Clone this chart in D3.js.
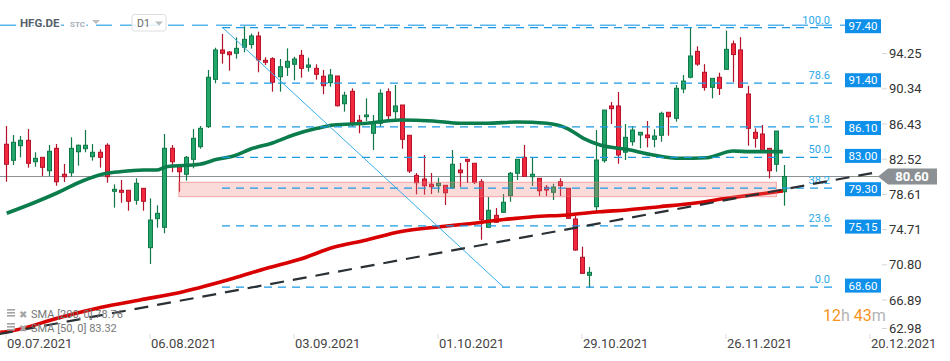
<!DOCTYPE html>
<html>
<head>
<meta charset="utf-8">
<script src="https://cdn.jsdelivr.net/npm/d3@7"></script>
<style>
  body { margin: 0; background: #fff; font-family: Roboto, "Noto Sans", sans-serif; }
  svg { display: block; }
</style>
</head>
<body>
<div id="root"></div>
<script>
// daily candles HFG.DE, 09.07.2021 .. 07.12.2021
const opens = [
  84.18, 82.40, 84.02, 84.62, 82.24, 82.73, 81.24, 83.73, 80.85, 81.02,
  83.35, 83.69, 82.80, 83.29, 84.07, 78.96, 79.07, 79.07, 77.96, 79.29,
  72.70, 75.92, 74.96, 83.73, 81.80, 80.85, 82.51, 83.91, 86.13, 91.39,
  94.65, 94.42, 94.28, 94.95, 95.25, 96.20, 93.50, 93.68, 91.68, 92.73,
  93.06, 94.06, 92.73, 92.61, 91.73, 91.02, 91.76, 88.68, 90.06, 86.84,
  87.24, 85.40, 86.51, 90.02, 87.80, 88.54, 85.18, 80.73, 80.32, 79.74,
  79.58, 79.62, 79.32, 81.32, 82.51, 82.07, 80.02, 74.96, 76.29, 76.63,
  78.47, 80.96, 82.73, 80.58, 80.40, 79.40, 78.85, 80.02, 79.29, 75.88,
  71.63, 69.63, 77.25, 82.36, 88.43, 88.43, 83.30, 84.46, 85.21, 85.21,
  84.73, 85.18, 87.73, 87.06, 90.32, 91.62, 94.49, 92.17, 90.50, 91.62,
  92.50, 95.33, 94.65, 89.76, 85.51, 85.32, 83.73, 81.96, 78.91
];
const highs = [
  86.21, 85.21, 85.10, 85.87, 83.29, 82.73, 84.10, 84.21, 81.99, 84.95,
  84.15, 85.76, 84.21, 83.62, 84.29, 79.73, 80.21, 79.07, 80.40, 79.29,
  78.18, 77.40, 85.32, 84.10, 81.80, 82.88, 85.87, 86.21, 92.43, 94.90,
  96.42, 94.54, 96.05, 97.28, 96.47, 96.68, 93.84, 93.84, 93.65, 94.83,
  93.90, 94.65, 93.79, 93.06, 92.43, 92.54, 91.76, 90.02, 90.39, 87.43,
  89.28, 87.43, 90.28, 90.39, 90.76, 88.54, 85.18, 80.99, 82.99, 80.99,
  80.47, 79.62, 83.54, 82.10, 82.54, 82.07, 80.32, 78.33, 77.10, 78.66,
  81.10, 82.51, 84.10, 82.69, 80.40, 79.66, 79.80, 80.40, 79.29, 76.22,
  72.81, 70.55, 85.76, 87.98, 88.87, 89.98, 86.43, 86.21, 85.54, 86.76,
  85.84, 87.80, 87.73, 90.76, 91.87, 97.08, 95.05, 93.08, 91.50, 92.13,
  96.80, 95.69, 96.07, 90.65, 85.95, 86.32, 83.73, 85.65, 81.88
];
const lows = [
  80.02, 81.88, 82.73, 81.58, 81.69, 80.66, 80.66, 79.58, 79.99, 80.58,
  81.80, 83.29, 82.36, 81.58, 79.91, 77.14, 77.69, 76.80, 77.47, 76.80,
  70.89, 74.92, 74.30, 81.07, 78.91, 80.14, 81.51, 83.69, 85.99, 90.95,
  93.13, 92.35, 93.68, 94.39, 94.80, 92.17, 92.98, 90.02, 90.02, 91.76,
  91.28, 91.57, 92.24, 91.35, 89.73, 90.57, 88.37, 87.80, 86.13, 85.40,
  86.76, 83.54, 86.13, 86.76, 86.99, 83.69, 80.99, 78.62, 78.58, 78.66,
  78.80, 77.44, 79.27, 79.43, 79.88, 79.77, 73.58, 74.94, 75.44, 76.55,
  77.80, 80.21, 80.60, 79.55, 78.44, 78.44, 77.99, 78.44, 75.88, 72.36,
  69.83, 68.22, 76.55, 82.13, 86.43, 82.02, 82.43, 84.02, 83.73, 83.84,
  83.84, 84.46, 85.13, 86.69, 89.84, 91.50, 92.89, 90.13, 89.28, 89.65,
  92.48, 91.08, 90.48, 84.02, 83.80, 83.45, 80.40, 81.13, 77.36
];
const closes = [
  81.96, 84.40, 84.62, 82.07, 82.62, 81.62, 83.40, 80.02, 80.58, 83.73,
  84.07, 84.07, 83.29, 82.73, 80.58, 79.18, 78.85, 77.85, 79.85, 77.85,
  75.77, 76.51, 83.73, 82.24, 81.13, 82.73, 84.84, 85.95, 91.62, 94.65,
  94.28, 94.12, 94.83, 95.83, 96.21, 93.54, 93.28, 91.06, 92.79, 93.39,
  93.65, 92.61, 92.98, 91.95, 90.68, 91.87, 88.46, 89.62, 86.57, 86.62,
  87.43, 86.51, 89.84, 87.35, 88.43, 84.73, 81.21, 79.91, 79.58, 79.47,
  79.85, 78.80, 81.96, 81.02, 82.29, 79.96, 75.80, 76.85, 75.52, 77.74,
  80.96, 82.51, 80.62, 80.85, 79.02, 79.10, 79.43, 79.58, 75.96, 72.44,
  69.85, 69.96, 82.43, 87.98, 88.13, 82.99, 84.95, 85.76, 85.51, 84.91,
  85.10, 87.62, 87.24, 90.39, 91.20, 93.98, 93.08, 90.50, 91.50, 90.39,
  94.72, 94.14, 90.50, 85.95, 84.84, 83.47, 81.24, 85.65, 80.60
];

// moving averages, [bar index, value]
const sma50 = [
  [0.1, 76.52], [3.8, 77.66], [7.0, 78.74], [10.7, 80.13], [13.5, 80.88],
  [15.8, 81.13], [19.1, 81.32], [20.9, 81.32], [22.3, 81.69], [26.9, 81.96],
  [29.3, 82.51], [31.6, 82.88], [33.9, 83.62], [37.1, 84.35], [39.9, 85.21],
  [43.2, 85.95], [45.5, 86.32], [50.1, 86.51], [54.7, 86.87], [59.3, 86.76],
  [63.1, 86.51], [66.8, 86.51], [70.9, 86.65], [75.1, 86.51], [77.9, 85.95],
  [80.2, 84.84], [82.5, 84.10], [86.2, 83.62], [89.9, 82.99], [93.6, 82.62],
  [97.3, 82.69], [101.0, 83.43], [103.3, 83.36], [107.9, 83.36]
];
const sma200 = [
  [-0.8, 63.30], [0.1, 63.37], [7.5, 64.95], [13.1, 66.05], [18.6, 66.89],
  [24.6, 67.81], [31.6, 69.30], [36.2, 70.41], [40.8, 71.41], [45.5, 72.74],
  [50.1, 73.55], [54.7, 74.47], [60.3, 75.03], [64.0, 75.33], [68.6, 75.77],
  [73.2, 76.14], [77.9, 76.33], [82.5, 76.69], [86.2, 76.88], [90.8, 77.25],
  [95.5, 77.63], [100.1, 78.18], [104.7, 78.66], [107.9, 78.99]
];

// drawings
const trendLine = [[-1, 63.1], [120.4, 81.0]];
const fibAnchor = [[30.1, 97.12], [69.1, 68.32]];
const fibRatios = ["100.0", "78.6", "61.8", "50.0", "38.2", "23.6", "0.0"];
const fibLevels = [97.12, 90.96, 86.12, 82.72, 79.32, 75.12, 68.32];
const fibPrices = ["97.40", "91.40", "86.10", "83.00", "79.30", "75.15", "68.60"];
const zoneBars = [24, 107];
const zonePrices = [79.96, 78.36];
const lastPrice = 80.60;

// axes
const priceTicks = ["94.25", "90.34", "86.43", "82.52", "78.61", "74.71", "70.80", "66.89", "62.98"];
const dateTicks = [0, 20, 40, 60, 80, 100, 120];
const dateLabels = ["09.07.2021", "06.08.2021", "03.09.2021", "01.10.2021", "29.10.2021", "26.11.2021", "20.12.2021"];
const legendRows = ["SMA [200, 0] 78.76", "SMA [50, 0] 83.32"];

const width = 950, height = 361;
const svg = d3.select("#root").append("svg").attr("width", width).attr("height", height);

const x = d3.scaleLinear().domain([0, 120]).range([6, 870]);
const y = d3.scaleLinear().domain([66.89, 86.43]).range([300, 124]);

const blue = "#1a9be3";

// current price line
svg.append("line")
  .attr("x1", 0).attr("x2", 880)
  .attr("y1", y(lastPrice)).attr("y2", y(lastPrice))
  .attr("stroke", "#8d9296").attr("stroke-width", 1);

// top light line at 97.40
svg.append("line")
  .attr("x1", 0).attr("x2", 845)
  .attr("y1", y(+fibPrices[0])).attr("y2", y(+fibPrices[0]))
  .attr("stroke", "#58b6ec").attr("stroke-width", 1.4)
  .attr("stroke-dasharray", "16,8");

// candles
const candles = svg.append("g");
d3.range(opens.length).forEach(i => {
  const up = closes[i] >= opens[i];
  const fill = up ? "#22a66a" : "#f2283d";
  const edge = up ? "#107848" : "#b3122a";
  const cx = Math.round(x(i)) + 0.5;
  candles.append("line")
    .attr("x1", cx).attr("x2", cx)
    .attr("y1", y(highs[i])).attr("y2", y(lows[i]))
    .attr("stroke", edge).attr("stroke-width", 1.2);
  const top = y(Math.max(opens[i], closes[i]));
  const bot = y(Math.min(opens[i], closes[i]));
  candles.append("rect")
    .attr("x", cx - 2).attr("width", 4)
    .attr("y", top).attr("height", Math.max(1, bot - top))
    .attr("fill", fill).attr("stroke", edge).attr("stroke-width", 1);
});

// SMAs
const line = d3.line().x(d => x(d[0])).y(d => y(d[1])).curve(d3.curveMonotoneX);
svg.append("path").datum(sma50).attr("d", line)
  .attr("fill", "none").attr("stroke", "#0b7c4c").attr("stroke-width", 3.6)
  .attr("stroke-linejoin", "round");
svg.append("path").datum(sma200).attr("d", line)
  .attr("fill", "none").attr("stroke", "#d80000").attr("stroke-width", 3.6)
  .attr("stroke-linejoin", "round");

// support zone
svg.append("rect")
  .attr("x", x(zoneBars[0])).attr("width", x(zoneBars[1]) - x(zoneBars[0]))
  .attr("y", y(zonePrices[0])).attr("height", y(zonePrices[1]) - y(zonePrices[0]))
  .attr("fill", "rgba(242,120,120,0.27)")
  .attr("stroke", "rgba(238,110,110,0.55)").attr("stroke-width", 1);

// fibonacci
const fib = svg.append("g");
fibLevels.forEach((v, k) => {
  fib.append("line")
    .attr("x1", x(30)).attr("x2", 836)
    .attr("y1", y(v)).attr("y2", y(v))
    .attr("stroke", blue).attr("stroke-width", 1.2)
    .attr("stroke-dasharray", "8,6");
  fib.append("text")
    .attr("x", 830).attr("y", y(v) - 4)
    .attr("text-anchor", "end")
    .attr("font-size", 11).attr("fill", "#2aa8e8")
    .text(fibRatios[k]);
});
fib.append("line")
  .attr("x1", x(fibAnchor[0][0])).attr("y1", y(fibAnchor[0][1]))
  .attr("x2", x(fibAnchor[1][0])).attr("y2", y(fibAnchor[1][1]))
  .attr("stroke", "#36aeea").attr("stroke-width", 1);

// trend line
svg.append("line")
  .attr("x1", x(trendLine[0][0])).attr("y1", y(trendLine[0][1]))
  .attr("x2", x(trendLine[1][0])).attr("y2", y(trendLine[1][1]))
  .attr("stroke", "#2b3034").attr("stroke-width", 2.2)
  .attr("stroke-dasharray", "14,9");

// price labels on the right
fibPrices.forEach(p => {
  const cy = y(+p) + 1;
  svg.append("rect")
    .attr("x", 845).attr("y", cy - 7).attr("width", 36).attr("height", 14)
    .attr("fill", "#0e90ea");
  svg.append("text")
    .attr("x", 863).attr("y", cy).attr("dy", "0.35em")
    .attr("text-anchor", "middle")
    .attr("font-size", 11.5).attr("fill", "#fff")
    .text(p);
});

// y axis
priceTicks.forEach(t => {
  const ty = Math.min(y(+t), 328.5);
  svg.append("line")
    .attr("x1", 882).attr("x2", 887).attr("y1", ty).attr("y2", ty)
    .attr("stroke", "#d5d5d5");
  svg.append("text")
    .attr("x", 889).attr("y", ty).attr("dy", "0.35em")
    .attr("font-size", 13).attr("fill", "#333")
    .text(t);
});

// last price tag
const ly = y(lastPrice);
svg.append("path")
  .attr("d", `M878,${ly} L888,${ly - 8} L937,${ly - 8} L937,${ly + 8} L888,${ly + 8} Z`)
  .attr("fill", "#8a9094");
svg.append("text")
  .attr("x", 912).attr("y", ly).attr("dy", "0.36em")
  .attr("text-anchor", "middle")
  .attr("font-size", 13).attr("font-weight", "bold").attr("fill", "#fff")
  .text(lastPrice.toFixed(2));

// x axis
dateTicks.forEach((d, k) => {
  svg.append("line")
    .attr("x1", x(d)).attr("x2", x(d)).attr("y1", 334).attr("y2", 339)
    .attr("stroke", "#dcdcdc");
  svg.append("text")
    .attr("x", x(d) + 1).attr("y", 348)
    .attr("font-size", 13).attr("fill", "#444")
    .text(dateLabels[k]);
});

// countdown
const cd = svg.append("text").attr("x", 823).attr("y", 321).attr("font-size", 16);
cd.append("tspan").attr("fill", "#f7941d").text("12");
cd.append("tspan").attr("fill", "#b4b4b4").text("h ");
cd.append("tspan").attr("fill", "#f7941d").text("43");
cd.append("tspan").attr("fill", "#b4b4b4").text("m");

// legend
legendRows.forEach((t, k) => {
  const by = 318 + k * 14;
  [0, 3, 6].forEach(o => {
    svg.append("rect")
      .attr("x", 7).attr("y", by - 9 + o).attr("width", 8).attr("height", 1.6)
      .attr("fill", "#a5a5a5");
  });
  svg.append("text")
    .attr("x", 19).attr("y", by).attr("font-size", 10).attr("fill", "#a5a5a5")
    .text("\u2716");
  svg.append("text")
    .attr("x", 31).attr("y", by).attr("font-size", 11).attr("fill", "#777")
    .text(t);
});

// header
svg.append("text")
  .attr("x", 20).attr("y", 27)
  .attr("font-size", 11.5).attr("font-weight", "bold").attr("fill", "#56606a")
  .attr("stroke", "#fff").attr("stroke-width", 3).attr("paint-order", "stroke")
  .text("HFG.DE");
svg.append("text")
  .attr("x", 70).attr("y", 27)
  .attr("font-size", 8).attr("font-weight", "bold").attr("fill", "#a8b0b6")
  .attr("stroke", "#fff").attr("stroke-width", 3).attr("paint-order", "stroke")
  .text("STC");
svg.append("path").attr("d", "M92,20 L100,20 L96,24 Z").attr("fill", "#b8bec2");
svg.append("rect")
  .attr("x", 132).attr("y", 14.5).attr("width", 34).attr("height", 16.5).attr("rx", 2.5)
  .attr("fill", "rgba(255,255,255,0.85)").attr("stroke", "#dedede");
svg.append("text")
  .attr("x", 137).attr("y", 27)
  .attr("font-size", 10.5).attr("fill", "#666")
  .text("D1");
svg.append("path").attr("d", "M155,21.5 L163,21.5 L159,25.5 Z").attr("fill", "#b8bec2");
</script>
</body>
</html>
